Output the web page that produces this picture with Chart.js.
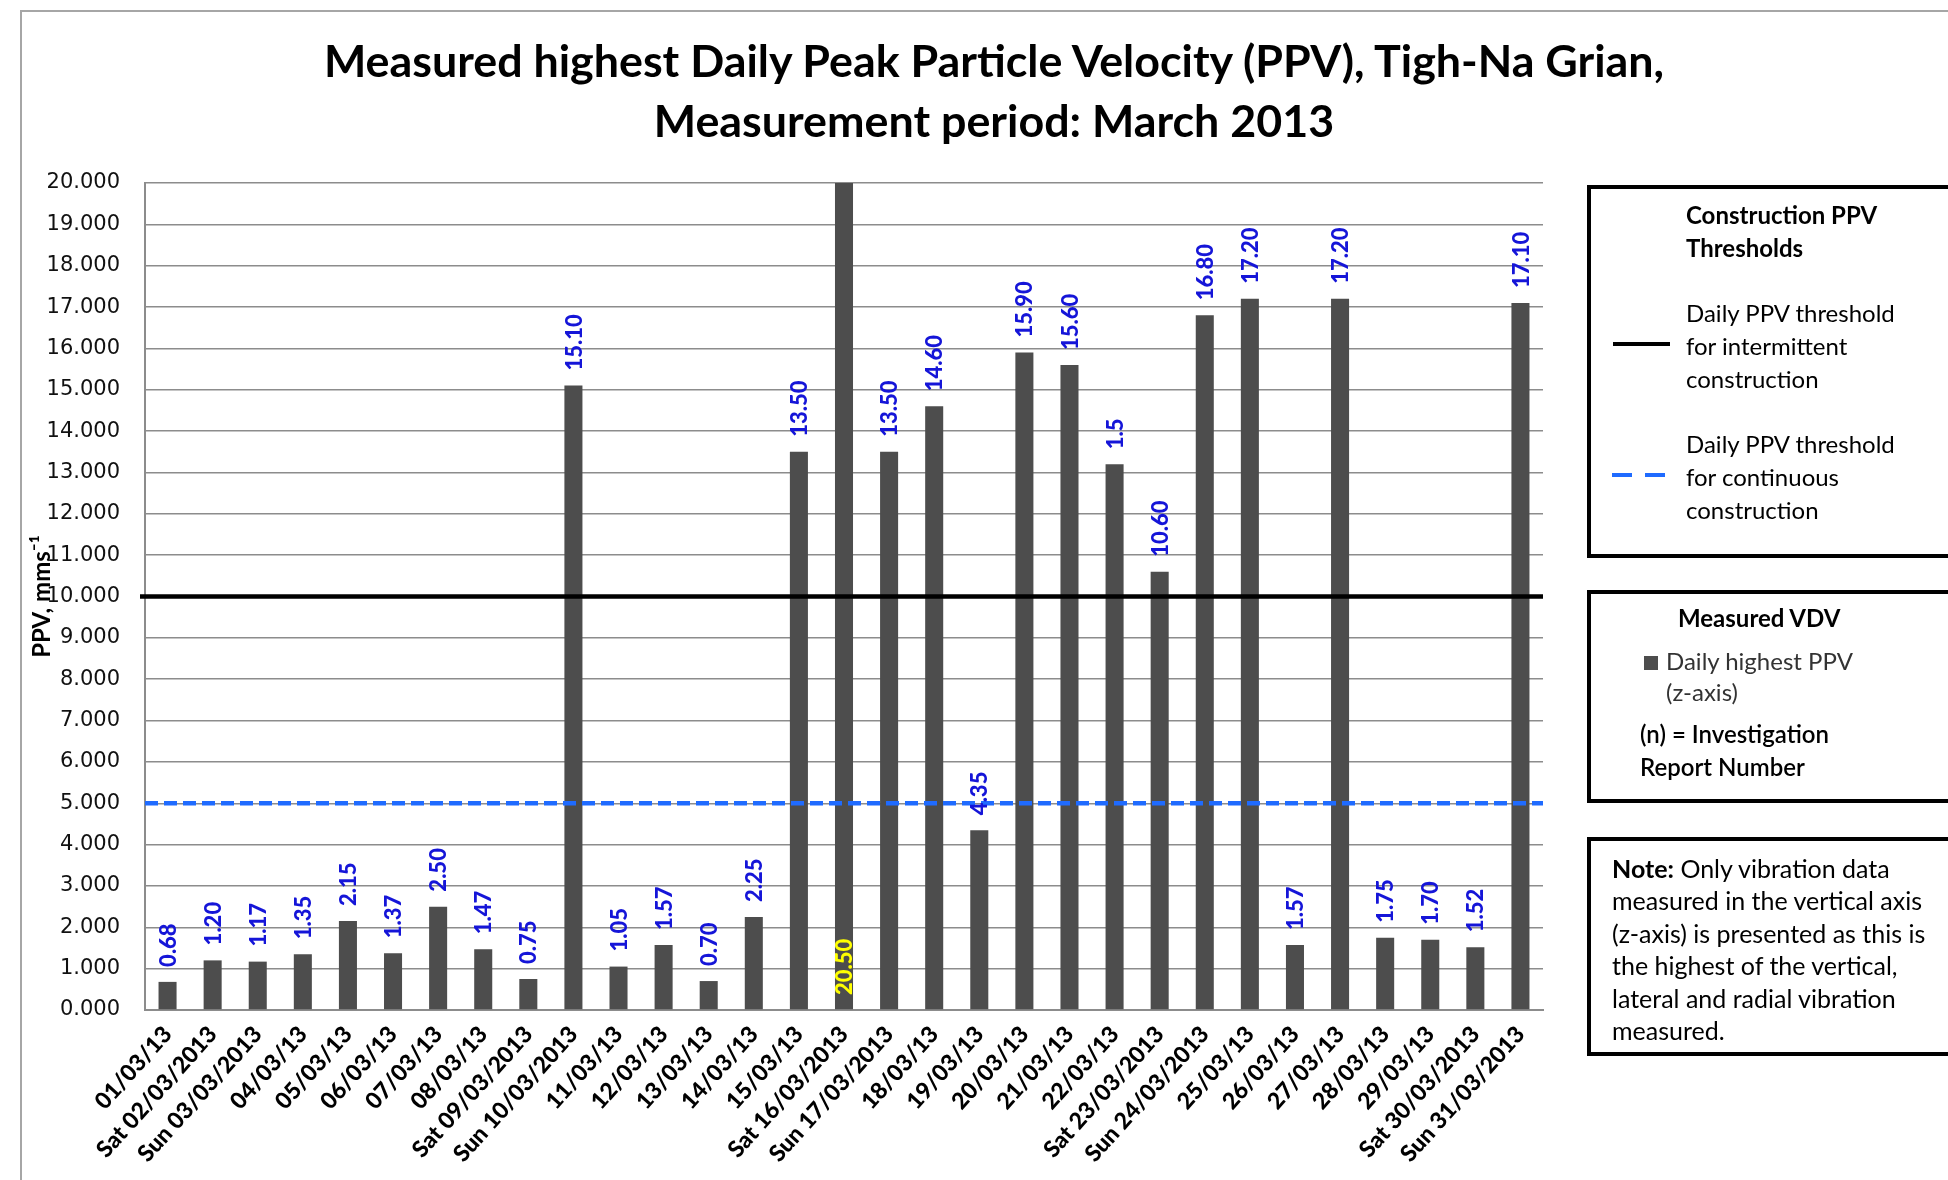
<!DOCTYPE html>
<html>
<head>
<meta charset="utf-8">
<script src="https://cdn.jsdelivr.net/npm/chart.js@4.4.0/dist/chart.umd.min.js"></script>
<style>
body { margin: 0; background: #fff; }
#wrap { position: relative; width: 1948px; height: 1180px; overflow: hidden; font-family: Lato, 'Open Sans', sans-serif; color: #000; }
#frame { position: absolute; left: 20px; top: 10px; width: 2000px; height: 1300px; border-left: 2px solid #a6a6a6; border-top: 2px solid #a6a6a6; }
#myChart { position: absolute; left: 0; top: 0; }
#title { position: absolute; left: 0; top: 30px; width: 1988px; text-align: center; font-weight: bold; font-size: 44.8px; line-height: 60px; }
.box { position: absolute; left: 1587px; width: 420px; border: 4px solid #000; box-sizing: border-box; }
.txt { position: absolute; font-size: 24px; line-height: 33px; white-space: nowrap; }
.b { font-weight: bold; }
</style>
</head>
<body>
<div id="wrap">
  <div id="frame"></div>
  <canvas id="myChart" width="1948" height="1180"></canvas>
  <div id="title">Measured highest Daily Peak Particle Velocity (PPV), Tigh-Na Grian,<br>Measurement period: March 2013</div>

  <div class="box" style="top:185px;height:373px;"></div>
  <div class="txt b" style="left:1686px;top:198px;">Construction PPV<br>Thresholds</div>
  <div style="position:absolute;left:1613px;top:342px;width:57px;height:4px;background:#000;"></div>
  <div class="txt" style="left:1686px;top:296px;">Daily PPV threshold<br>for intermittent<br>construction</div>
  <svg style="position:absolute;left:1610px;top:471px;" width="60" height="8"><line x1="2" y1="4" x2="58" y2="4" stroke="#1f6bff" stroke-width="4" stroke-dasharray="20 13"/></svg>
  <div class="txt" style="left:1686px;top:427px;">Daily PPV threshold<br>for continuous<br>construction</div>

  <div class="box" style="top:590px;height:213px;"></div>
  <div class="txt b" style="left:1678px;top:601px;">Measured VDV</div>
  <div style="position:absolute;left:1644px;top:656px;width:14px;height:14px;background:#4d4d4d;"></div>
  <div class="txt" style="left:1666px;top:645px;color:#333;line-height:31px;">Daily highest PPV<br>(z-axis)</div>
  <div class="txt" style="left:1640px;top:717px;font-weight:600;">(n) = Investigation<br>Report Number</div>

  <div class="box" style="top:837px;height:219px;"></div>
  <div class="txt" style="left:1612px;top:852px;line-height:32.4px;font-size:25px;"><span class="b">Note:</span> Only vibration data<br>measured in the vertical axis<br>(z-axis) is presented as this is<br>the highest of the vertical,<br>lateral and radial vibration<br>measured.</div>
</div>

<script>
var dayLabels = ['01/03/13', 'Sat 02/03/2013', 'Sun 03/03/2013', '04/03/13', '05/03/13', '06/03/13', '07/03/13', '08/03/13',
    'Sat 09/03/2013', 'Sun 10/03/2013', '11/03/13', '12/03/13', '13/03/13', '14/03/13', '15/03/13', 'Sat 16/03/2013',
    'Sun 17/03/2013', '18/03/13', '19/03/13', '20/03/13', '21/03/13', '22/03/13', 'Sat 23/03/2013', 'Sun 24/03/2013',
    '25/03/13', '26/03/13', '27/03/13', '28/03/13', '29/03/13', 'Sat 30/03/2013', 'Sun 31/03/2013']
var dailyPPV = [0.68, 1.20, 1.17, 1.35, 2.15, 1.37, 2.50, 1.47, 0.75, 15.10, 1.05, 1.57, 0.70, 2.25, 13.50, 20.50,
    13.50, 14.60, 4.35, 15.90, 15.60, 13.20, 10.60, 16.80, 17.20, 1.57, 17.20, 1.75, 1.70, 1.52, 17.10]
// labels as printed on the chart (22/03 shows "1.5")
var valueLabels = ['0.68', '1.20', '1.17', '1.35', '2.15', '1.37', '2.50', '1.47', '0.75', '15.10', '1.05', '1.57', '0.70', '2.25', '13.50', '20.50',
    '13.50', '14.60', '4.35', '15.90', '15.60', '1.5', '10.60', '16.80', '17.20', '1.57', '17.20', '1.75', '1.70', '1.52', '17.10']
var yMin = 0
var yMax = 20
var yStep = 1
var intermittentThreshold = 10
var continuousThreshold = 5

var thresholdPlugin = {
    id: 'thresholds',
    afterDatasetsDraw: function (chart) {
        var ctx = chart.ctx
        var area = chart.chartArea
        var y = chart.scales.y
        ctx.save()
        ctx.lineWidth = 4.5
        ctx.strokeStyle = '#000'
        ctx.beginPath()
        ctx.moveTo(area.left - 5, y.getPixelForValue(intermittentThreshold))
        ctx.lineTo(area.right, y.getPixelForValue(intermittentThreshold))
        ctx.stroke()
        ctx.strokeStyle = '#1f6bff'
        ctx.setLineDash([13, 6])
        ctx.beginPath()
        ctx.moveTo(area.left, y.getPixelForValue(continuousThreshold))
        ctx.lineTo(area.right, y.getPixelForValue(continuousThreshold))
        ctx.stroke()
        ctx.restore()
    }
}

var valueLabelPlugin = {
    id: 'valueLabels',
    afterDatasetsDraw: function (chart) {
        var ctx = chart.ctx
        var meta = chart.getDatasetMeta(0)
        var yScale = chart.scales.y
        ctx.save()
        ctx.font = '900 22px Lato'
        ctx.textBaseline = 'middle'
        ctx.textAlign = 'left'
        meta.data.forEach(function (bar, i) {
            var clipped = dailyPPV[i] > yScale.max
            var y = clipped ? yScale.getPixelForValue(0) - 15 : bar.y - 15
            ctx.fillStyle = clipped ? '#ffff00' : '#1515d8'
            ctx.save()
            ctx.translate(bar.x + 1, y)
            ctx.rotate(-Math.PI / 2)
            ctx.fillText(valueLabels[i], 0, 0)
            ctx.restore()
        })
        ctx.restore()
    }
}

var ctx = document.getElementById('myChart').getContext('2d')
var myChart = new Chart(ctx, {
    type: 'bar',
    data: {
        labels: dayLabels,
        datasets: [{
            label: 'Daily highest PPV (z-axis)',
            data: dailyPPV,
            backgroundColor: '#4d4d4d',
            barPercentage: 0.4,
            categoryPercentage: 1.0
        }]
    },
    options: {
        responsive: false,
        animation: false,
        layout: { padding: { top: 183, right: 405, left: 0, bottom: 0 } },
        plugins: { legend: { display: false }, tooltip: { enabled: false }, title: { display: false } },
        scales: {
            x: {
                grid: { display: false },
                border: { color: '#8c8c8c', width: 2 },
                ticks: {
                    autoSkip: false, maxRotation: 48, minRotation: 48, padding: 3,
                    color: '#000', font: { family: 'Lato', weight: '900', size: 23 }
                },
                afterFit: function (scale) { scale.height = 170 }
            },
            y: {
                min: yMin, max: yMax,
                grid: { color: '#8c8c8c', lineWidth: 1.5, drawTicks: false },
                border: { color: '#8c8c8c', width: 2 },
                ticks: {
                    stepSize: yStep, padding: 25, color: '#111',
                    font: { family: 'DejaVu Sans', size: 21 },
                    callback: function (v) { return v.toFixed(3) }
                },
                title: {
                    display: true, text: 'PPV, mms⁻¹', color: '#000',
                    font: { family: 'Lato', weight: 'bold', size: 24 },
                    padding: { top: 28, bottom: 0 }
                },
                afterFit: function (scale) { scale.width = 145 }
            }
        }
    },
    plugins: [thresholdPlugin, valueLabelPlugin]
})
</script>
</body>
</html>
